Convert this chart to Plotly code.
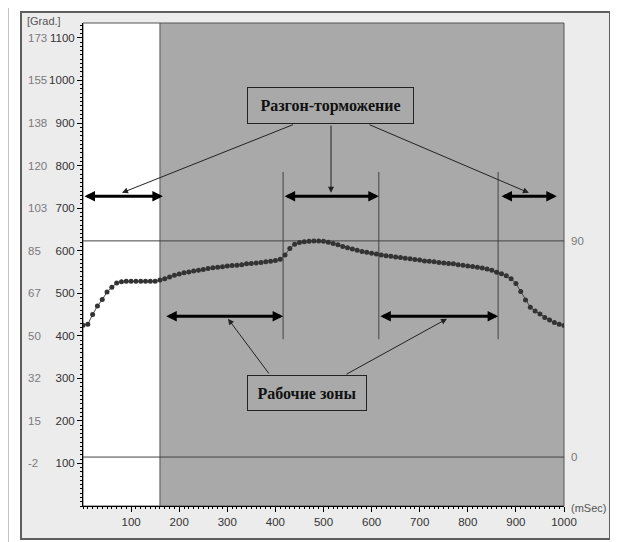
import plotly.graph_objects as go

# ---- data ----
t_ms = list(range(0, 1001, 10))
pos = [425, 427, 450, 470, 485, 503, 514, 524, 527, 528,
       528, 528, 528, 528, 528, 528, 531, 534, 538, 542,
       545, 548, 550, 552, 554, 556, 558, 560, 561, 562,
       564, 565, 566, 567, 569, 570, 571, 572, 574, 575,
       577, 580, 590, 605, 615, 619, 621, 622, 623, 623,
       622, 620, 617, 614, 610, 607, 604, 601, 598, 596,
       594, 592, 590, 588, 587, 585, 584, 582, 581, 579,
       578, 576, 575, 574, 572, 571, 570, 569, 567, 566,
       564, 563, 561, 559, 557, 554, 549, 546, 541, 534,
       523, 504, 484, 467, 458, 451, 443, 437, 431, 427, 424]

x_ticks = [100, 200, 300, 400, 500, 600, 700, 800, 900, 1000]
y_ticks = [100, 200, 300, 400, 500, 600, 700, 800, 900, 1000, 1100]
deg_labels = ["-2", "15", "32", "50", "67", "85", "103", "120", "138", "155", "173"]

work_start = 160                     # white -> grey boundary
zone_lines = [416, 615, 863]         # vertical zone boundaries
zone_line_span = [392, 785]
ref_levels = [623, 115]              # horizontal reference lines
ref_labels = ["90", "0"]

accel_zones = [(0, 166), (416, 615), (867, 985)]   # Разгон-торможение
accel_level = 728
work_zones = [(170, 416), (615, 863)]              # Рабочие зоны
work_level = 446

accel_box = ("Разгон-торможение", 514.5, 941)
work_box = ("Рабочие зоны", 465.7, 265.5)
accel_callouts = [((439.7, 897.5), (81, 736)), ((515.6, 897.5), (515.6, 736)), ((592.5, 897.5), (927, 736))]
work_callouts = [((388.8, 307.8), (301.5, 440)), ((544.7, 307.8), (756.8, 440))]

X_MAX, Y_MAX = 1000, 1135

# ---- figure ----
fig = go.Figure()
fig.add_trace(go.Scatter(
    x=t_ms, y=pos, mode="lines+markers",
    line=dict(color="#4a4a4a", width=1),
    marker=dict(color="#333333", size=5),
    hoverinfo="skip", showlegend=False))

# page body has an 8px margin: figure starts at (8, 8) in the window
OFF = 8
W, H = 618 - OFF, 542 - OFF
PL, PR, PT, PB = 83, 564, 23, 506          # plot area in window pixels
ml, mr, mt, mb = PL - OFF, (W + OFF) - PR, PT - OFF, (H + OFF) - PB
pw, ph = PR - PL, PB - PT


def px(x):
    return (x - PL) / pw


def py(y):
    return (PB - y) / ph


shapes = []
# outer window frame
shapes.append(dict(type="rect", xref="paper", yref="paper", x0=px(8.5), x1=px(614), y0=py(546), y1=py(5),
                   line=dict(color="#c4c4c4", width=1), fillcolor="white", layer="below"))
# panel
shapes.append(dict(type="rect", xref="paper", yref="paper", x0=px(21), x1=px(610), y0=py(539), y1=py(12),
                   line=dict(color="#5e5e5e", width=2), fillcolor="#ececec", layer="below"))
# plot background: white and grey parts
shapes.append(dict(type="rect", xref="x", yref="paper", x0=0, x1=work_start, y0=0, y1=1,
                   line=dict(width=0), fillcolor="white", layer="below"))
shapes.append(dict(type="rect", xref="x", yref="paper", x0=work_start, x1=X_MAX, y0=0, y1=1,
                   line=dict(width=0), fillcolor="#a9a9a9", layer="below"))
shapes.append(dict(type="rect", xref="paper", yref="paper", x0=0, x1=1, y0=0, y1=1,
                   line=dict(color="#555555", width=1), layer="below"))
shapes.append(dict(type="line", xref="x", yref="paper", x0=work_start, x1=work_start, y0=0, y1=1,
                   line=dict(color="#555555", width=1), layer="below"))
for zx in zone_lines:
    shapes.append(dict(type="line", xref="x", yref="y", x0=zx, x1=zx,
                       y0=zone_line_span[0], y1=zone_line_span[1],
                       line=dict(color="#444444", width=1), layer="below"))
for lv in ref_levels:
    shapes.append(dict(type="line", xref="paper", yref="y", x0=0, x1=1, y0=lv, y1=lv,
                       line=dict(color="#444444", width=1), layer="below"))

ann = []
fam = "Liberation Sans, Arial, sans-serif"
font_ax = dict(family=fam, size=11.5, color="#333333")
# degree labels column
for v, d in zip(y_ticks, deg_labels):
    ann.append(dict(xref="paper", yref="y", x=px(26), y=v, text=d, showarrow=False,
                    xanchor="left", yanchor="middle", font=dict(family=fam, size=11.5, color="#7a7a7a")))
ann.append(dict(xref="paper", yref="paper", x=px(25), y=py(21), text="[Grad.]", showarrow=False,
                xanchor="left", yanchor="middle", font=dict(family=fam, size=11, color="#555555")))
ann.append(dict(xref="paper", yref="paper", x=px(569), y=py(508), text="(mSec)", showarrow=False,
                xanchor="left", yanchor="middle", font=dict(family=fam, size=11, color="#555555")))
for lv, lb in zip(ref_levels, ref_labels):
    ann.append(dict(xref="paper", yref="y", x=px(569), y=lv, text=lb, showarrow=False,
                    xanchor="left", yanchor="middle", font=dict(family=fam, size=11.5, color="#7a7a7a")))

# double-headed arrows
for zones, level in ((accel_zones, accel_level), (work_zones, work_level)):
    for (a, b) in zones:
        ann.append(dict(xref="x", yref="y", axref="x", ayref="y", x=b, y=level, ax=a, ay=level,
                        text="", showarrow=True, arrowside="end+start", arrowhead=2, startarrowhead=2,
                        arrowsize=0.7, startarrowsize=0.7, arrowwidth=3, arrowcolor="#000000",
                        standoff=0, startstandoff=0))
# callouts
for (tail, head) in accel_callouts + work_callouts:
    ann.append(dict(xref="x", yref="y", axref="x", ayref="y", x=head[0], y=head[1], ax=tail[0], ay=tail[1],
                    text="", showarrow=True, arrowhead=2, arrowsize=1.2, arrowwidth=1, arrowcolor="#222222",
                    standoff=0, startstandoff=0))
# text boxes
box_font = dict(family="Liberation Serif, Times New Roman, serif", size=16, color="#111111")
ann.append(dict(xref="x", yref="y", x=accel_box[1], y=accel_box[2], text="<b>" + accel_box[0] + "</b>",
                showarrow=False, font=box_font, width=161, height=31, borderpad=2, borderwidth=1,
                bordercolor="#222222", xanchor="center", yanchor="middle"))
ann.append(dict(xref="x", yref="y", x=work_box[1], y=work_box[2], text="<b>" + work_box[0] + "</b>",
                showarrow=False, font=box_font, width=114, height=30, borderpad=2, borderwidth=1,
                bordercolor="#222222", xanchor="center", yanchor="middle"))

fig.update_layout(
    width=W, height=H,
    margin=dict(l=ml, r=mr, t=mt, b=mb, pad=0),
    paper_bgcolor="white", plot_bgcolor="white",
    shapes=shapes, annotations=ann,
    xaxis=dict(range=[0, X_MAX], tickvals=x_ticks, ticktext=[str(v) for v in x_ticks],
               showline=True, linecolor="#000000", linewidth=1, ticks="outside", ticklen=5,
               tickcolor="#000000", showgrid=False, zeroline=False, tickfont=font_ax,
               minor=dict(dtick=10, ticks="outside", ticklen=2, tickcolor="#000000", showgrid=False)),
    yaxis=dict(range=[0, Y_MAX], tickvals=y_ticks, ticktext=[str(v) for v in y_ticks],
               showline=True, linecolor="#000000", linewidth=1, ticks="outside", ticklen=5,
               tickcolor="#000000", showgrid=False, zeroline=False, tickfont=font_ax,
               minor=dict(dtick=10, ticks="outside", ticklen=2, tickcolor="#000000", showgrid=False)),
)

fig.write_html("out.html")
